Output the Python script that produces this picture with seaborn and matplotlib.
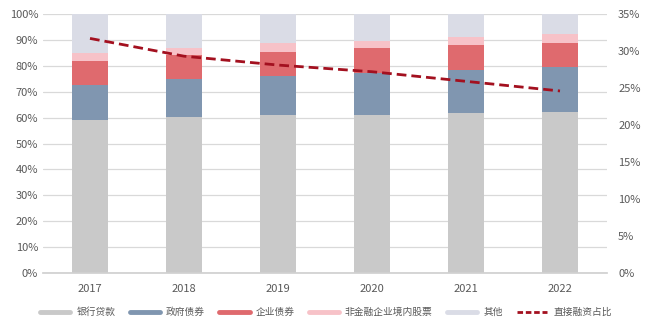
import numpy as np
import pandas as pd
import matplotlib
matplotlib.use("Agg")
import matplotlib.pyplot as plt
from matplotlib.lines import Line2D
import seaborn as sns

years = ["2017", "2018", "2019", "2020", "2021", "2022"]
bank_loans = [59.1, 60.3, 61.0, 61.0, 61.7, 62.3]
gov_bonds = [13.5, 14.5, 15.2, 16.1, 16.7, 17.4]
corp_bonds = [9.4, 9.4, 9.2, 9.9, 9.6, 9.2]
equity = [2.8, 2.6, 3.3, 2.6, 3.2, 3.4]
others = [15.2, 13.2, 11.3, 10.4, 8.8, 7.7]
direct_ratio = [31.7, 29.3, 28.1, 27.2, 25.9, 24.6]

series_names = ["银行贷款", "政府债券", "企业债券", "非金融企业境内股票", "其他"]
series_colors = ["#c9c9c9", "#8096b0", "#df6a6e", "#f7c2c8", "#dadce6"]
line_name = "直接融资占比"
line_color = "#a3101f"

sns.set_theme(style="white")
plt.rcParams["font.family"] = ["Noto Sans CJK SC", "DejaVu Sans"]

df = pd.DataFrame({"year": years})
stack = np.zeros(len(years))
cum_cols = []
for name, vals in zip(series_names, [bank_loans, gov_bonds, corp_bonds, equity, others]):
    stack = stack + np.array(vals)
    df[name] = stack.copy()
    cum_cols.append(name)

fig = plt.figure(figsize=(6.46, 3.28), dpi=100)
ax = fig.add_axes([43 / 646, 1 - 273 / 328, (607 - 43) / 646, (273 - 14) / 328])

# stacked bars: draw cumulative totals from the top layer down
for name, color in reversed(list(zip(cum_cols, series_colors))):
    sns.barplot(data=df, x="year", y=name, color=color, width=0.39,
                saturation=1, linewidth=0, edgecolor="none", ax=ax, zorder=2)

ax.set_ylim(0, 100)
ax.set_xlim(-0.5, len(years) - 0.5)
ax.set_yticks(np.arange(0, 101, 10))
ax.set_yticklabels([f"{v}%" for v in range(0, 101, 10)])
ax.yaxis.grid(True, color="#d9d9d9", linewidth=0.9, zorder=0)
ax.set_axisbelow(True)
ax.set_xlabel("")
ax.set_ylabel("")
for s in ["top", "right", "left"]:
    ax.spines[s].set_visible(False)
ax.spines["bottom"].set_color("#d0d0d0")
ax.tick_params(axis="both", length=0, labelsize=8, colors="#595959")
ax.tick_params(axis="x", pad=8)

ax2 = ax.twinx()
sns.lineplot(x=np.arange(len(years)), y=direct_ratio, ax=ax2, color=line_color,
             linewidth=2, linestyle=(0, (3.5, 1.8)), zorder=5)
ax2.set_ylim(0, 35)
ax2.set_yticks(np.arange(0, 36, 5))
ax2.set_yticklabels([f"{v}%" for v in range(0, 36, 5)])
for s in ax2.spines.values():
    s.set_visible(False)
ax2.tick_params(axis="y", length=0, labelsize=8, colors="#595959", pad=8)
ax2.set_xlim(-0.5, len(years) - 0.5)

handles = [Line2D([0], [0], color=c, linewidth=3.5) for c in series_colors]
handles.append(Line2D([0], [0], color=line_color, linewidth=2, linestyle=(0, (2, 1))))
labels = series_names + [line_name]
fig.legend(handles, labels, loc="center", bbox_to_anchor=(326 / 646, 1 - 312 / 328),
           ncol=6, frameon=False, fontsize=7, handlelength=3.1,
           columnspacing=1.5, handletextpad=0.6, labelcolor="#595959",
           borderaxespad=0, borderpad=0)

fig.savefig("out.png", dpi=100)
